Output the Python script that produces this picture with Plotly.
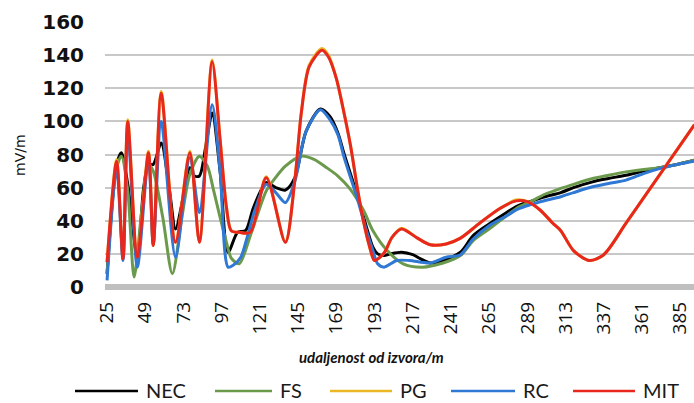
import plotly.graph_objects as go

# distance from source (m) and field strength (mV/m) for each propagation model
NEC_X = [25, 31, 34, 38, 44, 48, 51, 54, 59, 64, 68, 73, 77, 80, 83, 87, 91, 96, 101, 107,
         112, 117, 125, 131, 137, 143, 150, 159, 165, 170, 174, 182, 188, 192, 195, 199, 203,
         210, 217, 222, 228, 236, 247, 255, 265, 276, 283, 292, 300, 310, 318, 330, 340, 351,
         362, 372, 383, 394]
NEC_Y = [8, 74, 81, 62, 18, 60, 74, 74, 87, 60, 35, 55, 72, 67, 67, 85, 105, 70, 21, 33,
         34, 48, 63, 60, 58.5, 66, 94, 107.5, 103, 93, 80, 56, 36, 24, 20, 19, 20,
         21, 19.5, 17, 14.5, 16, 21, 31, 38, 45, 49, 52, 54.5, 57, 60, 63.5, 65.5, 67.5,
         70, 72, 74, 76.5]

FS_X = [25, 31, 34, 38, 42, 47, 51, 54, 60, 66, 72, 77, 83, 88, 92, 96, 100, 103, 108, 115,
        125, 130, 137, 147, 155, 163, 170, 177, 186, 192, 201, 211, 223, 236, 247, 255, 265,
        276, 283, 292, 300, 310, 318, 330, 340, 351, 362, 372, 383, 394]
FS_Y = [8, 72, 79, 58, 6, 48, 74, 70, 42, 8, 42, 68, 79, 73, 58, 42, 27, 17.5, 14, 31,
        58, 65, 73, 79, 77, 72, 67, 60, 46.5, 34, 22, 14, 12, 14.5, 19, 28, 35,
        43, 48, 52, 56, 59.5, 62, 65.5, 67.5, 69.5, 71, 72, 74, 76.5]

MIT_X = [25, 31, 35, 38, 44, 51, 54, 59, 68, 77, 83, 91, 96, 100, 103, 108, 115, 125, 137,
         143, 147, 152, 160, 164, 169, 173, 178, 182, 186, 190, 193, 199, 204, 210, 220, 228,
         238, 247, 259, 272, 282, 289, 297, 305, 310, 318, 328, 337, 351, 364, 377, 394]
MIT_Y = [15, 76, 17, 100, 18, 81, 25, 117, 27, 81, 27, 136, 89, 48, 34, 33, 33, 66, 27,
         65, 105, 133, 143, 139, 126, 109, 85, 61, 40, 24, 16, 20.5, 30, 35, 29.5, 25.5,
         26, 29.5, 38.5, 47.5, 52, 51.5, 46.5, 38.5, 34, 22, 16, 19.5, 38.5, 56.5, 74.5, 98]

PG_X = MIT_X
PG_Y = [15, 77, 17, 101, 18, 82, 25, 118, 27, 82, 27, 137, 89, 48, 34, 33, 33, 66.5, 27,
        65, 105, 134, 144, 140, 126, 109, 85, 61, 40, 24, 16, 20.5, 30, 35.5, 29.5, 25.5,
        26, 29.5, 38.5, 47.5, 52.5, 51.5, 46.5, 38.5, 34, 22, 16, 19.5, 38.5, 56.5, 74.5, 98]

RC_X = [25, 31, 35, 38, 44, 51, 54, 59, 68, 77, 83, 91, 96, 101, 104, 109, 113, 118, 125,
        131, 137, 143, 150, 159, 165, 170, 174, 182, 188, 192, 195, 199, 207, 215, 228, 238,
        247, 255, 265, 276, 283, 292, 297, 310, 318, 330, 340, 351, 362, 372, 383, 394]
RC_Y = [4, 72, 16, 95, 12, 78, 26, 100, 18, 78, 45, 110, 70, 12, 13, 18, 30, 47, 62,
        57, 51, 64, 94, 107, 101, 92, 78, 54, 34, 22, 14, 12, 16, 16, 14.5, 18,
        19.5, 29, 37, 43, 47, 50, 51.5, 54.5, 57, 60.5, 62.5, 64.5, 68.5, 71.5, 74, 76]

SERIES = [
    ("NEC", NEC_X, NEC_Y, "#000000"),
    ("FS", FS_X, FS_Y, "#6b9a4c"),
    ("PG", PG_X, PG_Y, "#e9b824"),
    ("RC", RC_X, RC_Y, "#2f78d4"),
    ("MIT", MIT_X, MIT_Y, "#e8281e"),
]

X_TICKS = [25, 49, 73, 97, 121, 145, 169, 193, 217, 241, 265, 289, 313, 337, 361, 385]
Y_TICKS = [0, 20, 40, 60, 80, 100, 120, 140, 160]

W, H = 694, 403
ML, MR, MT, MB = 105, 0, 22, 116
PW, PH = W - ML - MR, H - MT - MB


def px_x(p):
    return (p - ML) / PW


def px_y(p):
    return (H - MB - p) / PH


fig = go.Figure()
for name, xs, ys, color in SERIES:
    fig.add_trace(go.Scatter(
        x=xs, y=ys, name=name, mode="lines",
        line=dict(color=color, width=3, shape="spline", smoothing=0.8),
        showlegend=False,
    ))

# thick baseline at zero
fig.add_shape(type="line", xref="paper", yref="paper", x0=0, x1=1, y0=0, y1=0,
              line=dict(color="#bfbfbf", width=6), layer="below")

# legend drawn as line samples with labels underneath the chart
legend_lines = [(75, 138), (215, 272), (330, 392), (451, 515), (573, 635)]
legend_y = 391
for (name, _, _, color), (l0, l1) in zip(SERIES, legend_lines):
    fig.add_shape(type="line", xref="paper", yref="paper",
                  x0=px_x(l0), x1=px_x(l1), y0=px_y(legend_y), y1=px_y(legend_y),
                  line=dict(color=color, width=2.5))
    fig.add_annotation(xref="paper", yref="paper", x=px_x(l1 + 6), y=px_y(legend_y - 1),
                       text=name, showarrow=False, xanchor="left", yanchor="middle",
                       font=dict(family="Lato", size=20, color="#1a1a1a"))

fig.add_annotation(xref="paper", yref="paper", x=px_x(371), y=px_y(357),
                   text="<b><i>udaljenost od izvora/m</i></b>", showarrow=False,
                   xanchor="center", yanchor="middle",
                   font=dict(family="Lato", size=15, color="#111111"))

fig.add_annotation(xref="paper", yref="paper", x=px_x(20), y=px_y(155),
                   text="mV/m", showarrow=False, textangle=-90,
                   xanchor="center", yanchor="middle",
                   font=dict(family="DejaVu Sans", size=14, color="#111111"))

fig.update_layout(
    width=W, height=H,
    margin=dict(l=ML, r=MR, t=MT, b=MB, pad=0),
    paper_bgcolor="white", plot_bgcolor="white",
    showlegend=False,
    xaxis=dict(
        range=[23.7, 393.7], tickmode="array", tickvals=X_TICKS,
        ticktext=[str(v) for v in X_TICKS], tickangle=-90,
        showgrid=False, zeroline=False, showline=False, ticks="",
        ticklabelstandoff=10,
        tickfont=dict(family="Open Sans", size=19, color="#111111"),
    ),
    yaxis=dict(
        range=[0, 160], tickmode="array", tickvals=Y_TICKS,
        showgrid=True, gridcolor="#c8c8c8", gridwidth=2,
        zeroline=False, showline=False, ticks="",
        ticklabelstandoff=20,
        tickfont=dict(family="DejaVu Sans", size=20, color="#111111", weight="bold"),
    ),
)

fig.write_html("out.html")
